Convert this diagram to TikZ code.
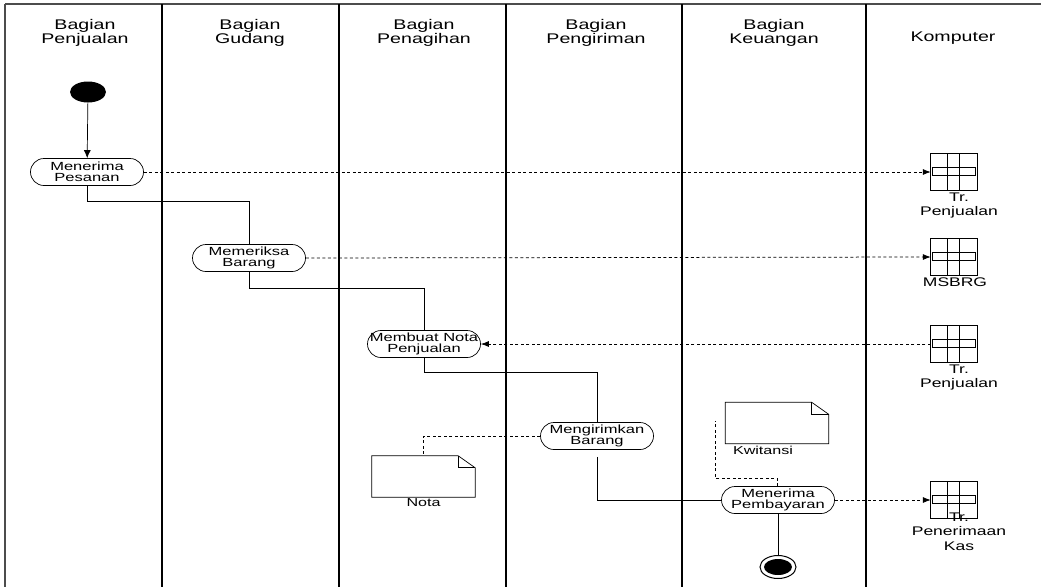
\documentclass[tikz,border=0pt]{standalone}
\usepackage{fontspec}
\setmainfont{Liberation Sans}[FakeStretch=1.4]
\usetikzlibrary{positioning,calc,shapes.misc,shapes.geometric,arrows.meta}
\tikzset{
    lane/.style={line width=1.6pt, black},
    header/.style={align=center, font=\fontsize{14}{14}\selectfont},
    activity/.style={rounded rectangle, draw, fill=white, line width=0.7pt, minimum width=113pt, minimum height=27pt, inner sep=0pt, align=center, font=\fontsize{11.8}{11.5}\selectfont},
    flow/.style={draw, line width=0.7pt},
    flowarrow/.style={flow, -{Latex[length=8pt,width=7pt]}},
    dataflow/.style={draw, line width=0.75pt, dash pattern=on 3pt off 2.5pt},
    dataarrow/.style={dataflow, -{Latex[length=8pt,width=6pt]}},
    tablebox/.style={minimum width=46pt, minimum height=36pt, inner sep=0pt},
    docbox/.style={minimum width=103pt, minimum height=41pt, inner sep=0pt},
    smalllabel/.style={align=center, font=\fontsize{12.5}{14.5}\selectfont, inner sep=0pt},
    startnode/.style={ellipse, fill=black, minimum width=36pt, minimum height=21pt, inner sep=0pt},
    endnode/.style={ellipse, draw, line width=1pt, minimum width=36pt, minimum height=23pt, inner sep=0pt}
}
\begin{document}
\begin{tikzpicture}[x=1pt, y=1pt]
    \useasboundingbox (0,0) rectangle (1041,-587);

    % swimlanes
    \draw[line width=1.4pt, black!70] (5,-4) -- (1041,-4);
    \draw[line width=1.4pt, black!70] (5,-4) -- (5,-587);
    \foreach \x in {162,339,506,682,866}
        \draw[lane] (\x,-4) -- (\x,-587);

    \node[header] (h1) at (85,-33) {Bagian\\Penjualan};
    \node[header] (h2) at (250,-33) {Bagian\\Gudang};
    \node[header] (h3) at (424,-33) {Bagian\\Penagihan};
    \node[header] (h4) at (596,-33) {Bagian\\Pengiriman};
    \node[header] (h5) at (774,-33) {Bagian\\Keuangan};
    \node[header] (h6) at (953,-38) {Komputer};

    % activities
    \node[startnode] (mulai) at (88,-92) {};
    \node[activity] (pesan) at (87,-172) {Menerima\\Pesanan};
    \node[activity] (periksa) at (249,-258) {Memeriksa\\Barang};
    \node[activity] (buatnota) at (424,-344) {\makebox[70pt]{Membuat Nota}\\Penjualan};
    \node[activity] (kirim) at (597,-436) {Mengirimkan\\Barang};
    \node[activity] (bayar) at (778,-500) {Menerima\\Pembayaran};
    \node[endnode] (selesai) at (778,-567) {};
    \node[ellipse, fill=black, minimum width=28pt, minimum height=16pt, inner sep=0pt] (selesaiin) at (selesai) {};

    % tables
    \node[tablebox] (tr1) at (954,-172) {};
    \node[tablebox] (tr2) at (954,-257) {};
    \node[tablebox] (tr3) at (954,-344) {};
    \node[tablebox] (tr4) at (954,-500) {};
    \foreach \t in {tr1,tr2,tr3,tr4} {
        \draw[line width=0.7pt] (\t.north west) rectangle (\t.south east);
        \draw[line width=0.7pt] ($(\t.north west)+(17,0)$) -- ($(\t.south west)+(17,0)$);
        \draw[line width=0.7pt] ($(\t.north west)+(29,0)$) -- ($(\t.south west)+(29,0)$);
        \draw[line width=1.3pt] ($(\t.north west)+(17,0)$) -- ($(\t.north west)+(17,-14)$);
        \draw[line width=1.3pt] ($(\t.north west)+(29,0)$) -- ($(\t.north west)+(29,-14)$);
        \draw[line width=1.3pt] ($(\t.north west)+(2,-14)$) rectangle ($(\t.north east)+(-2,-22)$);
    }
    \node[smalllabel, anchor=north] (tr1lbl) at ($(tr1.south)+(5,-2)$) {Tr.\\Penjualan};
    \node[smalllabel, anchor=north] (tr2lbl) at ($(tr2.south)+(1,-2)$) {MSBRG};
    \node[smalllabel, anchor=north] (tr3lbl) at ($(tr3.south)+(5,-2)$) {Tr.\\Penjualan};
    \node[smalllabel, anchor=north] (tr4lbl) at ($(tr4.south)+(5,6)$) {Tr.\\Penerimaan\\Kas};

    % documents
    \node[docbox] (notadoc) at (423.5,-476.5) {};
    \node[docbox] (kwdoc) at (777,-423) {};
    \foreach \d in {notadoc,kwdoc} {
        \draw[line width=0.7pt] (\d.north west) -- ($(\d.north east)+(-17,0)$) -- ($(\d.north east)+(0,-12)$) -- (\d.south east) -- (\d.south west) -- cycle;
        \draw[line width=0.7pt] ($(\d.north east)+(-17,0)$) |- ($(\d.north east)+(0,-12)$);
    }
    \node[smalllabel, anchor=north, font=\fontsize{11.5}{13}\selectfont] (notalbl) at ($(notadoc.south)+(0,-1)$) {Nota};
    \node[smalllabel, anchor=north, font=\fontsize{11.5}{13}\selectfont] (kwlbl) at ($(kwdoc.south)+(-14,-2)$) {Kwitansi};

    % control flow
    \draw[flowarrow] (mulai) -- (pesan);
    \draw[flow] (pesan.south) -- ++(0,-15) -| (periksa.north);
    \draw[flow] (periksa.south) -- ++(0,-16) -| (buatnota.north);
    \draw[flow] (buatnota.south) -- ++(0,-14) -| (kirim.north);
    \draw[flow] ([yshift=-7pt]kirim.south) |- (bayar.west);
    \draw[flow] (bayar) -- (selesai);

    % data flow
    \coordinate (kwend) at (715,-421);
    \draw[dataarrow] (pesan.east) -- (tr1.west);
    \draw[dataarrow] (periksa.east) -- (tr2.west);
    \draw[dataarrow] (tr3.west) -- (buatnota.east);
    \draw[dataarrow] (bayar.east) -- (tr4.west);
    \draw[dataflow] (kirim.west) -| (notadoc.north);
    \draw[dataflow] ([xshift=-1pt]bayar.north) -- ++(0,8) -| (kwend);
\end{tikzpicture}
\end{document}
